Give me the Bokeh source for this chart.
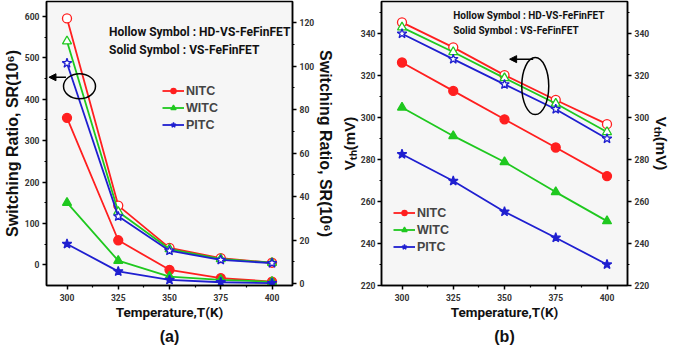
from bokeh.plotting import figure
from bokeh.models import (LinearAxis, Range1d, Legend, LegendItem, Label, Arrow,
                          NormalHead, Title, FixedTicker)
from bokeh.layouts import row
from bokeh.embed import file_html
from bokeh.resources import INLINE

temps = [300, 325, 350, 375, 400]
x_ticks = [300, 325, 350, 375, 400]
series_names = ["NITC", "WITC", "PITC"]

# (a) Switching ratio SR (10^6): hollow = HD-VS-FeFinFET (left axis), solid = VS-FeFinFET (right axis)
sr_hd_nitc = [595, 143, 41, 16, 5]
sr_hd_witc = [540, 128, 38, 14, 5]
sr_hd_pitc = [487, 117, 34, 12, 4]
sr_vs_nitc = [76.2, 19.9, 6.3, 2.5, 0.9]
sr_vs_witc = [37.2, 10.5, 3.2, 1.7, 0.8]
sr_vs_pitc = [18.2, 5.6, 1.7, 0.6, 0.2]

# (b) Threshold voltage Vth (mV)
vth_hd_nitc = [345.1, 333.2, 320.0, 308.2, 296.7]
vth_hd_witc = [342.7, 331.0, 318.6, 306.5, 293.0]
vth_hd_pitc = [339.7, 327.6, 315.6, 303.8, 289.8]
vth_vs_nitc = [326.0, 312.5, 299.0, 285.6, 272.0]
vth_vs_witc = [304.6, 291.1, 278.7, 264.4, 250.6]
vth_vs_pitc = [282.4, 269.7, 255.1, 242.7, 230.0]

sr_left_ticks = [0, 100, 200, 300, 400, 500, 600]
sr_right_ticks = [0, 20, 40, 60, 80, 100, 120]
vth_ticks = [220, 240, 260, 280, 300, 320, 340]

colors = ["#ff1f1f", "#1fc81f", "#1f1fd0"]
markers = ["circle", "triangle", "star"]
sizes = [9, 9, 10]

TICK_FONT = "Roboto"
LABEL_FONT = "Liberation Sans"


def style_axis(ax, ticks, minor, label_size="16px", label_standoff=1, tick_standoff=3):
    ax.ticker = FixedTicker(ticks=ticks, minor_ticks=minor)
    ax.axis_line_width = 1.5
    ax.axis_line_color = "black"
    ax.major_tick_in = 0
    ax.major_tick_out = 4
    ax.minor_tick_in = 0
    ax.minor_tick_out = 2
    ax.major_tick_line_width = 1.5
    ax.minor_tick_line_width = 1.2
    ax.major_label_text_font = TICK_FONT
    ax.major_label_text_font_style = "bold"
    ax.major_label_text_font_size = "8.5px"
    ax.major_label_text_color = "#333333"
    ax.major_label_standoff = tick_standoff
    ax.axis_label_text_font = LABEL_FONT
    ax.axis_label_text_font_style = "bold"
    ax.axis_label_text_font_size = label_size
    ax.axis_label_text_color = "#111111"
    ax.axis_label_standoff = label_standoff


def base_fig(x_range, y_range, mbl, mbr):
    p = figure(frame_width=246, frame_height=284, output_backend="svg",
               toolbar_location=None, x_range=x_range, y_range=y_range,
               min_border_left=mbl, min_border_right=mbr, min_border_top=1,
               min_border_bottom=0)
    p.background_fill_color = "#f6f6f6"
    p.border_fill_color = "white"
    p.outline_line_color = "black"
    p.outline_line_width = 1.5
    p.xgrid.visible = False
    p.ygrid.visible = False
    return p


def style_xaxis(ax):
    style_axis(ax, x_ticks, [312.5, 337.5, 362.5, 387.5])
    ax.axis_label = "Temperature,T(K)"
    ax.axis_label_text_font = TICK_FONT
    ax.axis_label_text_font_size = "13.5px"
    ax.axis_label_standoff = 0
    ax.major_label_standoff = 4


def add_series(p, ys, color, marker, size, hollow, y_range_name="default"):
    ln = p.line(temps, ys, line_color=color, line_width=1.8, y_range_name=y_range_name)
    sc = p.scatter(temps, ys, marker=marker, size=size, line_color=color,
                   line_width=1.3, fill_color="white" if hollow else color,
                   y_range_name=y_range_name)
    return ln, sc


def add_legend(p, items, loc):
    leg = Legend(items=items, location=loc, background_fill_alpha=0,
                 border_line_alpha=0, padding=0, margin=0, spacing=0,
                 glyph_width=22, glyph_height=13, label_height=17,
                 label_standoff=2, label_text_font=LABEL_FONT,
                 label_text_font_style="bold", label_text_font_size="12.5px")
    p.add_layout(leg)


def add_notes(p, x, y1, y2, size):
    for yy, txt in [(y1, "Hollow Symbol : HD-VS-FeFinFET"), (y2, "Solid Symbol : VS-FeFinFET")]:
        p.add_layout(Label(x=x, y=yy, text=txt, text_font=TICK_FONT, text_font_style="bold",
                           text_font_size=size, text_baseline="middle", text_color="#111111"))


def add_panel_title(p, txt):
    p.add_layout(Title(text=txt, align="center", text_font=LABEL_FONT, standoff=7,
                       text_font_size="16px", text_font_style="bold",
                       text_color="#111111"), "below")


# ---------------- panel (a) ----------------
pa = base_fig(Range1d(290, 410), Range1d(-50, 636), 39, 40)
pa.extra_y_ranges = {"right": Range1d(-0.9, 129.7)}
style_xaxis(pa.xaxis[0])
style_axis(pa.yaxis[0], sr_left_ticks, [50, 150, 250, 350, 450, 550])
pa.yaxis[0].axis_label = "Switching Ratio, SR(10\u2076)"
ra = LinearAxis(y_range_name="right")
style_axis(ra, sr_right_ticks, [10, 30, 50, 70, 90, 110], label_standoff=0)
ra.axis_label = "Switching Ratio, SR(10\u2076)"
pa.add_layout(ra, "right")

legend_items_a = []
for hd, vs, c, m, s, name in zip([sr_hd_nitc, sr_hd_witc, sr_hd_pitc],
                                 [sr_vs_nitc, sr_vs_witc, sr_vs_pitc],
                                 colors, markers, sizes, series_names):
    add_series(pa, hd, c, m, s, True)
    ln, sc = add_series(pa, vs, c, m, s, False, "right")
    legend_items_a.append(LegendItem(label=name, renderers=[ln, sc]))
add_legend(pa, legend_items_a, (116, 152))
add_notes(pa, 320.5, 562, 520, "12px")
pa.ellipse(x=[306.1], y=[431], width=32, height=25, width_units="screen",
           height_units="screen", fill_alpha=0, line_color="black", line_width=1.5)
pa.add_layout(Arrow(end=NormalHead(size=7, fill_color="black", line_color="black"),
                    x_start=299.5, y_start=453, x_end=291.2, y_end=453, line_width=1.5))
add_panel_title(pa, "(a)")

# ---------------- panel (b) ----------------
pb = base_fig(Range1d(290, 410), Range1d(220, 355), 30, 48)
style_xaxis(pb.xaxis[0])
style_axis(pb.yaxis[0], vth_ticks, [230, 250, 270, 290, 310, 330, 350],
           label_size="15px", label_standoff=0, tick_standoff=2)
pb.yaxis[0].axis_label = "V\u209c\u2095(mV)"
rb = LinearAxis()
style_axis(rb, vth_ticks, [230, 250, 270, 290, 310, 330, 350], label_size="15px")
rb.axis_label = "V\u209c\u2095(mV)"
pb.add_layout(rb, "right")

legend_items_b = []
for hd, vs, c, m, s, name in zip([vth_hd_nitc, vth_hd_witc, vth_hd_pitc],
                                 [vth_vs_nitc, vth_vs_witc, vth_vs_pitc],
                                 colors, markers, sizes, series_names):
    add_series(pb, hd, c, m, s, True)
    ln, sc = add_series(pb, vs, c, m, s, False)
    legend_items_b.append(LegendItem(label=name, renderers=[ln, sc]))
add_legend(pb, legend_items_b, (12, 30))
add_notes(pb, 325, 348.4, 341.2, "10px")
pb.ellipse(x=[365], y=[314.8], width=27, height=57, width_units="screen",
           height_units="screen", fill_alpha=0, line_color="black", line_width=1.5)
pb.add_layout(Arrow(end=NormalHead(size=7, fill_color="black", line_color="black"),
                    x_start=364, y_start=327.6, x_end=352.5, y_end=327.6, line_width=1.5))
add_panel_title(pb, "(b)")

layout = row(pa, pb)
open("out.html", "w").write(file_html(layout, INLINE))
